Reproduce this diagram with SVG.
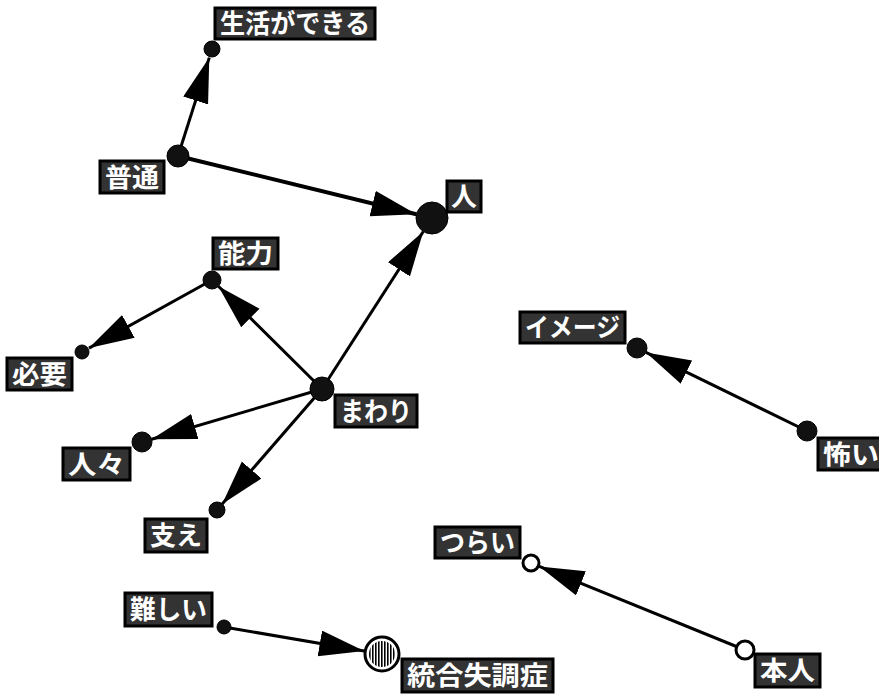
<svg xmlns="http://www.w3.org/2000/svg" width="879" height="696" viewBox="0 0 879 696">
<style>
.lbl rect{fill:#333;stroke:#000;stroke-width:3}
.lbl text{fill:#fff;font-family:"Noto Sans CJK JP","Noto Sans",sans-serif;font-weight:bold;font-size:26px}
.dot{fill:#111;stroke:#000;stroke-width:1}
.hollow{fill:#fff;stroke:#000;stroke-width:3}
.edge{stroke:#000;stroke-width:3;fill:none;marker-end:url(#ah)}
</style>
<defs>
<marker id="ah" markerUnits="userSpaceOnUse" markerWidth="48" markerHeight="28" refX="45" refY="13" orient="auto">
<path d="M0,0 L45,13 L0,26 z" fill="#000"/>
</marker>
<pattern id="hatch" patternUnits="userSpaceOnUse" width="3" height="3">
<rect width="3" height="3" fill="#fff"/>
<rect width="1.6" height="3" fill="#000"/>
</pattern>
</defs>
<rect width="879" height="696" fill="#fff"/>
<g id="connectors">
<line class="edge" x1="178" y1="156" x2="209.3" y2="57.6"/>
<line class="edge" x1="178" y1="156" x2="416.4" y2="214.2" style="stroke-width:4"/>
<line class="edge" x1="322" y1="389" x2="423.3" y2="231.5"/>
<line class="edge" x1="322" y1="389" x2="218.4" y2="286.3"/>
<line class="edge" x1="212" y1="280" x2="89" y2="348.1"/>
<line class="edge" x1="322" y1="389" x2="151.6" y2="439.2"/>
<line class="edge" x1="322" y1="389" x2="222.2" y2="504"/>
<line class="edge" x1="807" y1="431" x2="646" y2="352.4"/>
<line class="edge" x1="745" y1="650" x2="539.3" y2="566.4"/>
<line class="edge" x1="224" y1="627" x2="364.2" y2="651"/>
</g>
<g id="n-seikatsu"><circle class="dot" cx="212" cy="49" r="8"/><g class="lbl"><rect x="215" y="8" width="160" height="31"/><text x="220" y="33" textLength="150" lengthAdjust="spacingAndGlyphs">生活ができる</text></g></g>
<g id="n-futsuu"><circle class="dot" cx="178" cy="156" r="11"/><g class="lbl"><rect x="100" y="161" width="64" height="32"/><text x="105" y="186.5" textLength="54" lengthAdjust="spacingAndGlyphs">普通</text></g></g>
<g id="n-hito"><circle class="dot" cx="432" cy="218" r="16"/><g class="lbl"><rect x="447" y="181" width="34" height="31"/><text x="451" y="206" textLength="26" lengthAdjust="spacingAndGlyphs">人</text></g></g>
<g id="n-nouryoku"><circle class="dot" cx="212" cy="280" r="9"/><g class="lbl"><rect x="213" y="238" width="65" height="31"/><text x="218" y="263" textLength="55" lengthAdjust="spacingAndGlyphs">能力</text></g></g>
<g id="n-hitsuyou"><circle class="dot" cx="82" cy="352" r="7"/><g class="lbl"><rect x="7" y="358" width="65" height="32"/><text x="12" y="383.5" textLength="55" lengthAdjust="spacingAndGlyphs">必要</text></g></g>
<g id="n-mawari"><circle class="dot" cx="322" cy="389" r="12"/><g class="lbl"><rect x="335" y="395" width="82" height="32"/><text x="340" y="420.5" textLength="72" lengthAdjust="spacingAndGlyphs">まわり</text></g></g>
<g id="n-hitobito"><circle class="dot" cx="142" cy="442" r="10"/><g class="lbl"><rect x="63" y="448" width="67" height="32"/><text x="68" y="473.5" textLength="57" lengthAdjust="spacingAndGlyphs">人々</text></g></g>
<g id="n-sasae"><circle class="dot" cx="217" cy="510" r="8"/><g class="lbl"><rect x="145" y="519" width="62" height="33"/><text x="150" y="545" textLength="52" lengthAdjust="spacingAndGlyphs">支え</text></g></g>
<g id="n-image"><circle class="dot" cx="637" cy="348" r="10"/><g class="lbl"><rect x="520" y="312" width="105" height="31"/><text x="525" y="337" textLength="95" lengthAdjust="spacingAndGlyphs">イメージ</text></g></g>
<g id="n-kowai"><circle class="dot" cx="807" cy="431" r="10"/><g class="lbl"><rect x="818" y="438" width="66" height="32"/><text x="823" y="463.5" textLength="56" lengthAdjust="spacingAndGlyphs">怖い</text></g></g>
<g id="n-tsurai"><circle class="hollow" cx="531" cy="563" r="8"/><g class="lbl"><rect x="435" y="527" width="85" height="31"/><text x="440" y="552" textLength="75" lengthAdjust="spacingAndGlyphs">つらい</text></g></g>
<g id="n-honnin"><circle class="hollow" cx="745" cy="650" r="9"/><g class="lbl"><rect x="755" y="654" width="65" height="33"/><text x="760" y="680" textLength="55" lengthAdjust="spacingAndGlyphs">本人</text></g></g>
<g id="n-muzukashii"><circle class="dot" cx="224" cy="627" r="7"/><g class="lbl"><rect x="125" y="593" width="87" height="33"/><text x="130" y="619" textLength="77" lengthAdjust="spacingAndGlyphs">難しい</text></g></g>
<g id="n-tougou"><circle cx="382" cy="654" r="17" fill="#fff" stroke="#000" stroke-width="3"/><circle cx="382" cy="654" r="13" fill="url(#hatch)"/><g class="lbl"><rect x="402" y="659" width="151" height="33"/><text x="407" y="685" textLength="141" lengthAdjust="spacingAndGlyphs">統合失調症</text></g></g>
</svg>
